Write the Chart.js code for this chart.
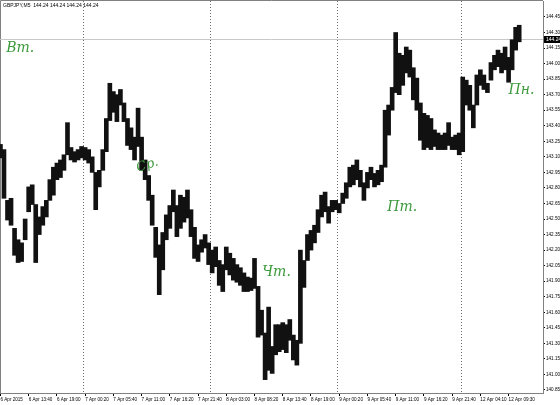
<!DOCTYPE html>
<html>
<head>
<meta charset="utf-8">
<script src="https://cdn.jsdelivr.net/npm/chart.js@4.4.0/dist/chart.umd.min.js"></script>
<style>
  html, body { margin: 0; padding: 0; background: #fff; }
  canvas { display: block; }
</style>
</head>
<body>
<canvas id="chart" width="560" height="405"></canvas>
<script>
// GBPJPY M5, one column per 8 bars (40 min), high/low
const barStep = 8;

const highs = [
  143.22, 143.17, 142.68, 142.70, 142.41, 142.30, 142.27, 142.50, 142.81, 142.83,
  142.64, 142.52, 142.62, 142.68, 142.88, 143.00, 143.04, 143.07, 143.12, 143.43,
  143.19, 143.15, 143.17, 143.20, 143.19, 143.17, 143.10, 142.95, 142.97, 143.17,
  143.47, 143.81, 143.73, 143.70, 143.75, 143.62, 143.47, 143.38, 143.29, 143.57,
  143.29, 143.07, 142.92, 142.73, 142.42, 142.25, 142.37, 142.54, 142.63, 142.78,
  142.63, 142.73, 142.71, 142.78, 142.59, 142.42, 142.25, 142.30, 142.35, 142.27,
  142.20, 142.23, 142.10, 142.06, 142.23, 142.17, 142.12, 142.06, 142.03, 141.98,
  141.94, 141.93, 142.12, 141.85, 141.62, 141.40, 141.65, 141.27, 141.48, 141.48,
  141.50, 141.48, 141.53, 141.38, 141.33, 142.20, 142.10, 142.35, 142.39, 142.44,
  142.59, 142.73, 142.76, 142.62, 142.68, 142.68, 142.65, 142.75, 142.85, 143.00,
  143.02, 143.07, 142.97, 142.85, 142.95, 143.00, 142.94, 142.97, 143.02, 143.55,
  143.60, 143.77, 144.30, 144.10, 144.08, 144.16, 144.13, 143.96, 143.86, 143.62,
  143.52, 143.50, 143.47, 143.36, 143.33, 143.31, 143.33, 143.43, 143.29, 143.31,
  143.33, 143.87, 143.84, 143.79, 143.60, 143.89, 143.94, 143.89, 143.81, 144.01,
  144.08, 144.13, 144.10, 144.16, 144.06, 144.23, 144.35, 144.37
];

const lows = [
  143.09, 142.70, 142.49, 142.44, 142.15, 142.08, 142.09, 142.30, 142.57, 142.64,
  142.08, 142.35, 142.44, 142.52, 142.68, 142.73, 142.88, 142.90, 142.97, 143.12,
  143.07, 143.05, 143.07, 143.09, 143.07, 143.04, 142.95, 142.59, 142.81, 142.97,
  143.15, 143.45, 143.53, 143.44, 143.60, 143.44, 143.21, 143.17, 143.07, 143.20,
  142.97, 142.88, 142.68, 142.44, 142.13, 141.77, 142.01, 142.30, 142.41, 142.57,
  142.33, 142.41, 142.47, 142.51, 142.33, 142.12, 142.09, 142.18, 142.22, 142.06,
  141.98, 142.04, 141.86, 141.80, 142.01, 141.96, 141.91, 141.89, 141.86, 141.80,
  141.80, 141.81, 141.83, 141.36, 141.38, 140.95, 141.04, 141.01, 141.19, 141.22,
  141.24, 141.21, 141.33, 141.14, 141.09, 141.30, 141.84, 142.10, 142.20, 142.27,
  142.37, 142.52, 142.57, 142.46, 142.57, 142.59, 142.56, 142.65, 142.70, 142.81,
  142.83, 142.88, 142.81, 142.68, 142.80, 142.88, 142.81, 142.83, 142.86, 143.00,
  143.31, 143.55, 143.72, 143.70, 143.79, 143.91, 143.87, 143.65, 143.55, 143.26,
  143.17, 143.19, 143.17, 143.20, 143.17, 143.17, 143.17, 143.21, 143.17, 143.17,
  143.12, 143.15, 143.60, 143.55, 143.38, 143.60, 143.79, 143.75, 143.72, 143.84,
  143.94, 143.97, 143.91, 143.94, 143.82, 143.94, 144.13, 144.21
];

const lastPrice = 144.24;

const timeLabels = [
  '6 Apr 2015', '6 Apr 13:40', '6 Apr 19:00', '7 Apr 00:20', '7 Apr 05:40',
  '7 Apr 11:00', '7 Apr 16:20', '7 Apr 21:40', '8 Apr 03:00', '8 Apr 08:20',
  '8 Apr 13:40', '8 Apr 19:00', '9 Apr 00:20', '9 Apr 05:40', '9 Apr 11:00',
  '9 Apr 16:20', '9 Apr 21:40', '12 Apr 04:10', '12 Apr 09:30'
];
const timeLabelBars = [0, 64, 128, 192, 256, 320, 384, 448, 512, 576, 640, 704, 768, 832, 896, 960, 1024, 1088, 1152];

// first bar of each new day
const daySeparators = [188, 476, 764, 1045];

const priceTicks = [
  140.85, 141.00, 141.15, 141.30, 141.45, 141.60, 141.75, 141.90, 142.05, 142.20,
  142.35, 142.50, 142.65, 142.80, 142.95, 143.10, 143.25, 143.40, 143.55, 143.70,
  143.85, 144.00, 144.15, 144.30, 144.45
];

const dayNames = ['Вт.', 'Ср.', 'Чт.', 'Пт.', 'Пн.'];

// where each day name sits (bar index, price)
const notePlaces = [[45, 144.15], [333, 143.02], [626, 141.99], [911, 142.61], [1181, 143.74]];

const smallFont = '"Liberation Sans Narrow", "Liberation Sans", sans-serif';

const mtDecor = {
  id: 'mtDecor',
  beforeDraw(chart) {
    const c = chart.ctx;
    c.save();
    c.fillStyle = '#fff';
    c.fillRect(0, 0, chart.width, chart.height);
    c.restore();
  },
  beforeDatasetsDraw(chart) {
    const c = chart.ctx;
    const a = chart.chartArea;
    const xs = chart.scales.x, ys = chart.scales.y;
    c.save();
    // frame
    c.strokeStyle = '#808080';
    c.lineWidth = 1;
    c.beginPath();
    c.moveTo(0.5, a.bottom);
    c.lineTo(0.5, 0.5);
    c.lineTo(a.right, 0.5);
    c.stroke();
    // day separators
    c.setLineDash([1, 2]);
    c.strokeStyle = '#707070';
    daySeparators.forEach(b => {
      const x = Math.round(xs.getPixelForValue(b)) + 0.5;
      c.beginPath();
      c.moveTo(x, a.top);
      c.lineTo(x, a.bottom);
      c.stroke();
    });
    c.setLineDash([]);
    // last price line
    const py = Math.round(ys.getPixelForValue(lastPrice)) + 0.5;
    c.strokeStyle = '#c8c8c8';
    c.beginPath();
    c.moveTo(a.left, py);
    c.lineTo(a.right, py);
    c.stroke();
    c.restore();
  },
  afterDraw(chart) {
    const c = chart.ctx;
    const a = chart.chartArea;
    const xs = chart.scales.x, ys = chart.scales.y;
    c.save();
    // header
    c.fillStyle = '#000';
    c.font = '5px ' + smallFont;
    c.textBaseline = 'middle';
    c.textAlign = 'left';
    const p = lastPrice.toFixed(2);
    c.fillText('GBPJPY,M5  ' + [p, p, p, p].join(' '), 3, 6);
    // last price box
    const py = Math.round(ys.getPixelForValue(lastPrice));
    c.fillStyle = '#000';
    c.fillRect(a.right + 1, py - 3, chart.width - a.right - 1, 7);
    c.fillStyle = '#fff';
    c.fillText(p, a.right + 3, py + 0.5);
    // day names
    c.fillStyle = '#3c9a3c';
    c.font = 'italic 14px "DejaVu Serif"';
    c.textAlign = 'center';
    dayNames.forEach((t, i) => {
      const [b, v] = notePlaces[i];
      const x = xs.getPixelForValue(b), y = ys.getPixelForValue(v);
      c.save();
      c.translate(x, y);
      if (i === 1) { c.rotate(-0.3); c.font = 'italic 13px "DejaVu Serif"'; }
      c.fillText(t, 0, 0);
      c.restore();
    });
    c.restore();
  }
};

new Chart(document.getElementById('chart'), {
  type: 'bar',
  data: {
    datasets: [{
      data: highs.map((h, i) => ({ x: i * barStep, y: [lows[i], h] })),
      backgroundColor: '#111',
      borderWidth: 0,
      barThickness: 4,
      grouped: false
    }]
  },
  options: {
    responsive: false,
    animation: false,
    devicePixelRatio: 1,
    layout: { padding: { top: 1, left: 0, right: 0, bottom: 0 } },
    plugins: { legend: { display: false }, tooltip: { enabled: false } },
    scales: {
      x: {
        type: 'linear',
        min: -1,
        max: 1230,
        offset: false,
        afterBuildTicks: s => { s.ticks = timeLabelBars.map(v => ({ value: v })); },
        afterFit: s => { s.height = 12; s.paddingLeft = 0; s.paddingRight = 0; },
        grid: { drawOnChartArea: false, offset: false, tickLength: 3, color: '#000' },
        border: { color: '#808080' },
        ticks: {
          autoSkip: false,
          maxRotation: 0,
          align: 'start',
          padding: 1,
          color: '#000',
          font: { size: 4.6, family: smallFont },
          callback: (v, i) => timeLabels[i]
        }
      },
      y: {
        position: 'right',
        min: 140.821,
        max: 144.604,
        afterBuildTicks: s => { s.ticks = priceTicks.map(v => ({ value: v })); },
        afterFit: s => { s.width = 17; s.paddingTop = 0; s.paddingBottom = 0; },
        grid: { drawOnChartArea: false, tickLength: 2, color: '#000' },
        border: { color: '#808080' },
        ticks: {
          padding: 1,
          color: '#000',
          font: { size: 4.6, family: smallFont },
          callback: v => v.toFixed(2)
        }
      }
    }
  },
  plugins: [mtDecor]
});
</script>
</body>
</html>
